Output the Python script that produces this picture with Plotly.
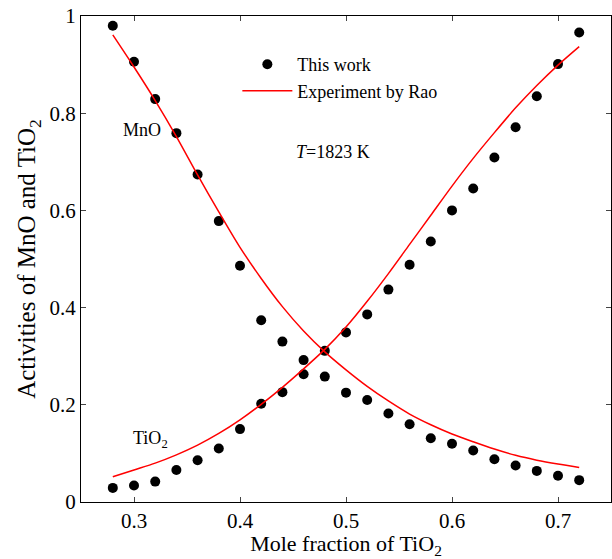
import plotly.graph_objects as go

# Mole fraction of TiO2 for the calculated points
x_calc = [0.28, 0.30, 0.32, 0.34, 0.36, 0.38, 0.40, 0.42, 0.44, 0.46, 0.48, 0.50,
          0.52, 0.54, 0.56, 0.58, 0.60, 0.62, 0.64, 0.66, 0.68, 0.70, 0.72]
# Calculated activities (this work)
a_mno_calc = [0.980, 0.906, 0.829, 0.759, 0.674, 0.578, 0.486, 0.374, 0.330, 0.292, 0.258, 0.225,
              0.210, 0.182, 0.160, 0.131, 0.120, 0.106, 0.088, 0.075, 0.064, 0.054, 0.045]
a_tio2_calc = [0.029, 0.034, 0.042, 0.066, 0.086, 0.110, 0.150, 0.202, 0.226, 0.263, 0.311, 0.349,
               0.386, 0.437, 0.488, 0.536, 0.600, 0.645, 0.709, 0.771, 0.835, 0.901, 0.966]

# Experimental activities (Rao)
x_exp = [0.28, 0.30, 0.32, 0.34, 0.36, 0.38, 0.40, 0.42, 0.44, 0.46, 0.48, 0.50,
         0.52, 0.54, 0.56, 0.58, 0.60, 0.62, 0.64, 0.66, 0.68, 0.70, 0.72]
a_mno_exp = [0.961, 0.895, 0.826, 0.752, 0.673, 0.597, 0.524, 0.460, 0.402, 0.352, 0.309, 0.272,
             0.238, 0.208, 0.181, 0.159, 0.140, 0.124, 0.109, 0.096, 0.086, 0.078, 0.071]
a_tio2_exp = [0.052, 0.066, 0.080, 0.097, 0.117, 0.141, 0.169, 0.201, 0.236, 0.274, 0.314, 0.360,
              0.413, 0.470, 0.530, 0.590, 0.650, 0.707, 0.760, 0.811, 0.857, 0.899, 0.937]

x_ticks = [0.3, 0.4, 0.5, 0.6, 0.7]
y_ticks = [0, 0.2, 0.4, 0.6, 0.8, 1]

FONT = "Liberation Serif, Times New Roman, serif"
RED = "#ff0000"

fig = go.Figure()

# calculated points
fig.add_trace(go.Scatter(x=x_calc, y=a_mno_calc, mode="markers", name="This work",
                         marker=dict(color="black", size=10), legendgroup="calc"))
fig.add_trace(go.Scatter(x=x_calc, y=a_tio2_calc, mode="markers", name="This work",
                         marker=dict(color="black", size=10), showlegend=False,
                         legendgroup="calc"))
# experimental curves
fig.add_trace(go.Scatter(x=x_exp, y=a_mno_exp, mode="lines", name="Experiment by Rao",
                         line=dict(color=RED, width=1.5, shape="spline", smoothing=0.8),
                         legendgroup="exp"))
fig.add_trace(go.Scatter(x=x_exp, y=a_tio2_exp, mode="lines", name="Experiment by Rao",
                         line=dict(color=RED, width=1.5, shape="spline", smoothing=0.8),
                         showlegend=False, legendgroup="exp"))

axis_common = dict(
    showline=True, linecolor="black", linewidth=1, mirror="ticks",
    ticks="inside", ticklen=5, tickcolor="#444", tickwidth=1,
    showgrid=False, zeroline=False, automargin=False,
    tickfont=dict(family=FONT, size=21, color="black"),
)

fig.update_xaxes(range=[0.25, 0.75], tickvals=x_ticks, ticktext=[str(v) for v in x_ticks],
                 title=dict(text="Mole fraction of TiO<sub>2</sub>", standoff=4,
                            font=dict(family=FONT, size=22, color="black")),
                 **axis_common)
fig.update_yaxes(range=[0, 1], tickvals=y_ticks, ticktext=["0", "0.2", "0.4", "0.6", "0.8", "1"],
                 title=dict(text="Activities of MnO and TiO<sub>2</sub>", standoff=6,
                            font=dict(family=FONT, size=25, color="black")),
                 **axis_common)

fig.add_annotation(x=0.308, y=0.765, text="MnO", showarrow=False,
                   font=dict(family=FONT, size=18, color="black"))
fig.add_annotation(x=0.316, y=0.128, text="TiO<sub>2</sub>", showarrow=False,
                   font=dict(family=FONT, size=18, color="black"))
fig.add_annotation(x=0.488, y=0.720, text="<i>T</i>=1823 K", showarrow=False,
                   font=dict(family=FONT, size=18, color="black"))

fig.update_layout(
    width=612, height=559,
    margin=dict(l=81, r=1, t=16, b=57),
    plot_bgcolor="white", paper_bgcolor="white",
    font=dict(family=FONT, color="black"),
    legend=dict(x=0.295, y=0.938, xanchor="left", yanchor="top",
                bgcolor="rgba(0,0,0,0)", borderwidth=0,
                font=dict(family=FONT, size=18, color="black"),
                itemwidth=50, tracegroupgap=0),
)

fig.write_html("out.html")
